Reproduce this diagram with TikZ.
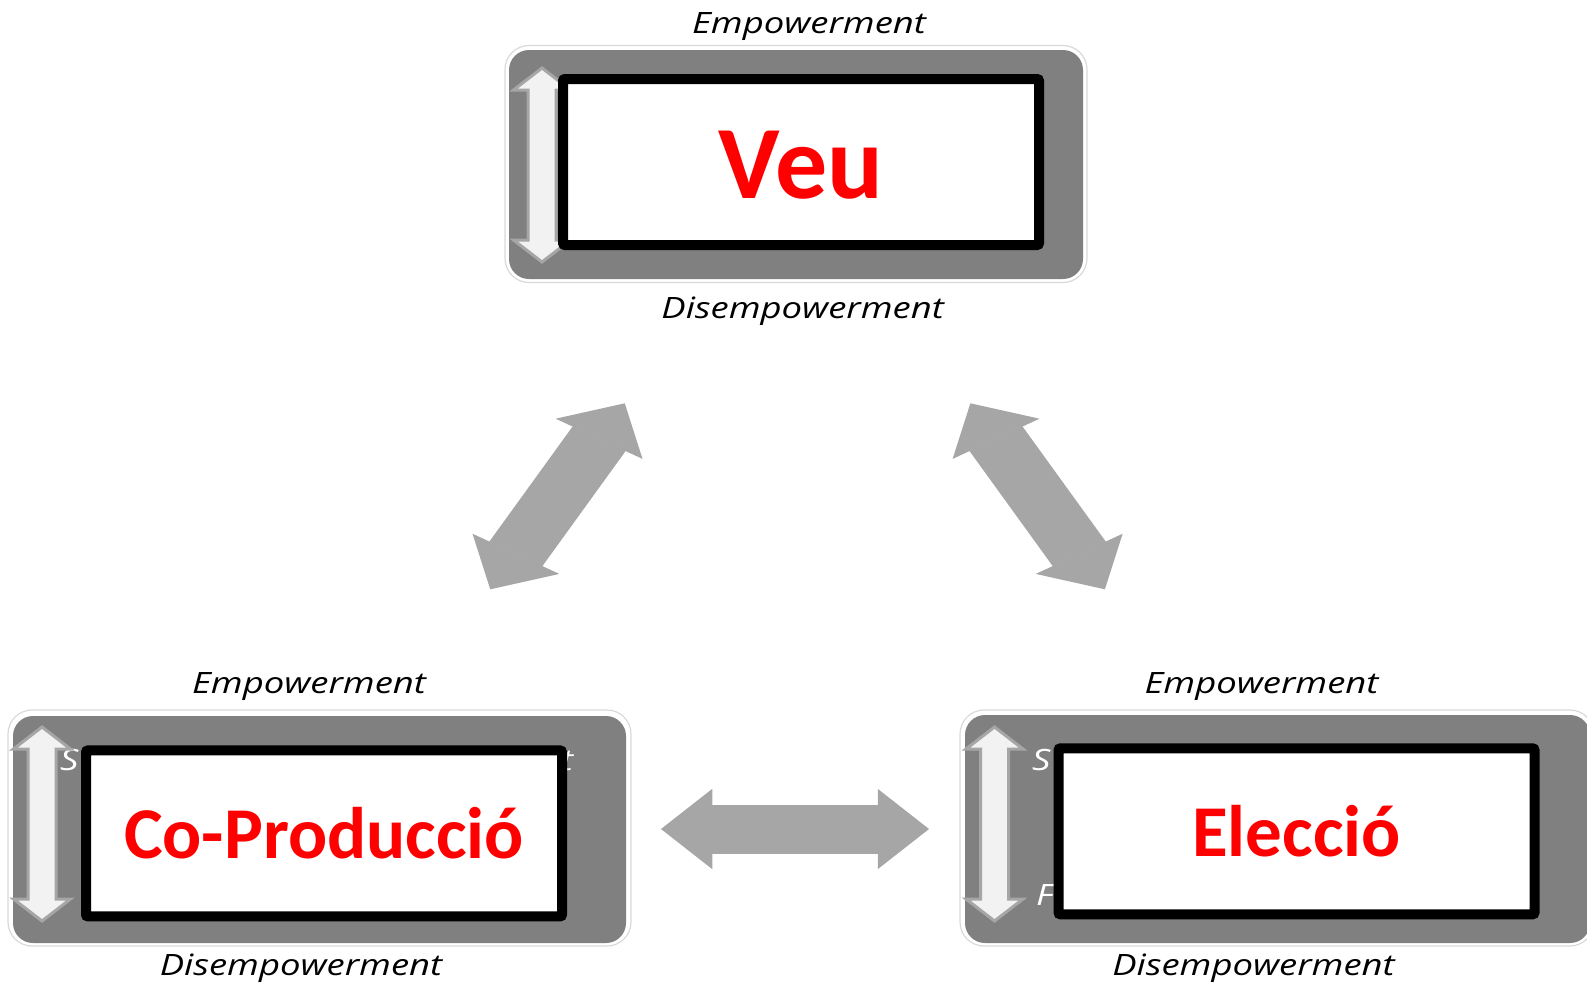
\documentclass[tikz,border=0pt]{standalone}
\usepackage{fontspec}
\setmainfont{Carlito}
\newfontfamily\scalefont{Open Sans}[FakeStretch=1.24]
\usetikzlibrary{arrows.meta}

\definecolor{panelgray}{HTML}{808080}
\definecolor{linkgray}{HTML}{A6A6A6}
\definecolor{rimgray}{HTML}{D9D9D9}
\definecolor{liftgray}{HTML}{F2F2F2}

\tikzset{lift/.pic={
    \draw[draw=linkgray, line width=3pt, fill=liftgray, line join=miter]
      (0,0) -- (28.5,22) -- (14,22) -- (14,172) -- (28.5,172) -- (0,194)
      -- (-28.5,172) -- (-14,172) -- (-14,22) -- (-28.5,22) -- cycle;}}

\begin{document}
\begin{tikzpicture}[x=1pt, y=-1pt, inner sep=0pt,
    rim/.style={draw=rimgray, line width=1.2pt, rounded corners=24pt},
    panel/.style={fill=panelgray, rounded corners=20pt},
    frame/.style={draw=black, line width=10pt, fill=white, rounded corners=2pt,
                  minimum width=476pt, minimum height=166pt, text=red,
                  text depth=0pt},
    pole/.style={font=\scalefont\itshape\fontsize{29.4}{30}\selectfont},
    hint/.style={pole, text=white, anchor=base west},
    link/.style={draw=linkgray, line width=49pt,
        arrows={Triangle[width=80pt,length=41pt,line width=1.5pt]-Triangle[width=80pt,length=41pt,line width=1.5pt]}}]
    \useasboundingbox (0,0) rectangle (1587,983);

    % Veu
    \node[rim, minimum width=582pt, minimum height=237pt]   (veu-rim)   at (796,164)  {};
    \node[panel, minimum width=574pt, minimum height=229pt] (veu-panel) at (796,164.5) {};
    \pic at (542,68) {lift};
    \node[frame, text height=72pt, font=\bfseries\fontsize{104}{104}\selectfont] (veu) at (801,162) {Veu};
    \node[pole, anchor=base] (veu-up)   at (809,33.3) {Empowerment};
    \node[pole, anchor=base] (veu-down) at (802.6,318) {Disempowerment};

    % Co-Produccio
    \node[rim, minimum width=623pt, minimum height=236pt]   (cop-rim)   at (319.5,828) {};
    \node[panel, minimum width=613pt, minimum height=227pt] (cop-panel) at (319.5,829.5) {};
    \node[hint] (cop-s) at (60,770) {S};
    \node[hint] (cop-t) at (561,770) {t};
    \pic at (42,727) {lift};
    \node[frame, text height=50pt, font=\bfseries\fontsize{73}{73}\selectfont] (cop) at (324,833.4) {Co-Producció};
    \node[pole, anchor=base] (cop-up)   at (309,693) {Empowerment};
    \node[pole, anchor=base] (cop-down) at (301,975) {Disempowerment};

    % Eleccio
    \node[rim, minimum width=634pt, minimum height=236pt]   (ele-rim)   at (1277,828) {};
    \node[panel, minimum width=625pt, minimum height=228pt] (ele-panel) at (1277.5,829) {};
    \node[hint] (ele-s) at (1032,770) {S};
    \node[hint] (ele-f) at (1036,905) {F};
    \pic at (994.5,727) {lift};
    \node[frame, text height=50pt, font=\bfseries\fontsize{73}{73}\selectfont] (ele) at (1296.5,831.3) {Elecció};
    \node[pole, anchor=base] (ele-up)   at (1261.5,693) {Empowerment};
    \node[pole, anchor=base] (ele-down) at (1253.5,975) {Disempowerment};

    % links (the whole figure is stretched sideways)
    \begin{scope}[transform canvas={xscale=1.25}]
        \coordinate (veu-cop) at (499.8,403.3);
        \coordinate (cop-veu) at (392.2,589.3);
        \coordinate (veu-ele) at (776.3,403.3);
        \coordinate (ele-veu) at (883.9,589.3);
        \coordinate (cop-ele) at (528.8,829);
        \coordinate (ele-cop) at (743.2,829);

        \draw[link] (cop-veu) -- (veu-cop);
        \draw[link] (veu-ele) -- (ele-veu);
        \draw[link] (cop-ele) -- (ele-cop);
    \end{scope}
\end{tikzpicture}
\end{document}
